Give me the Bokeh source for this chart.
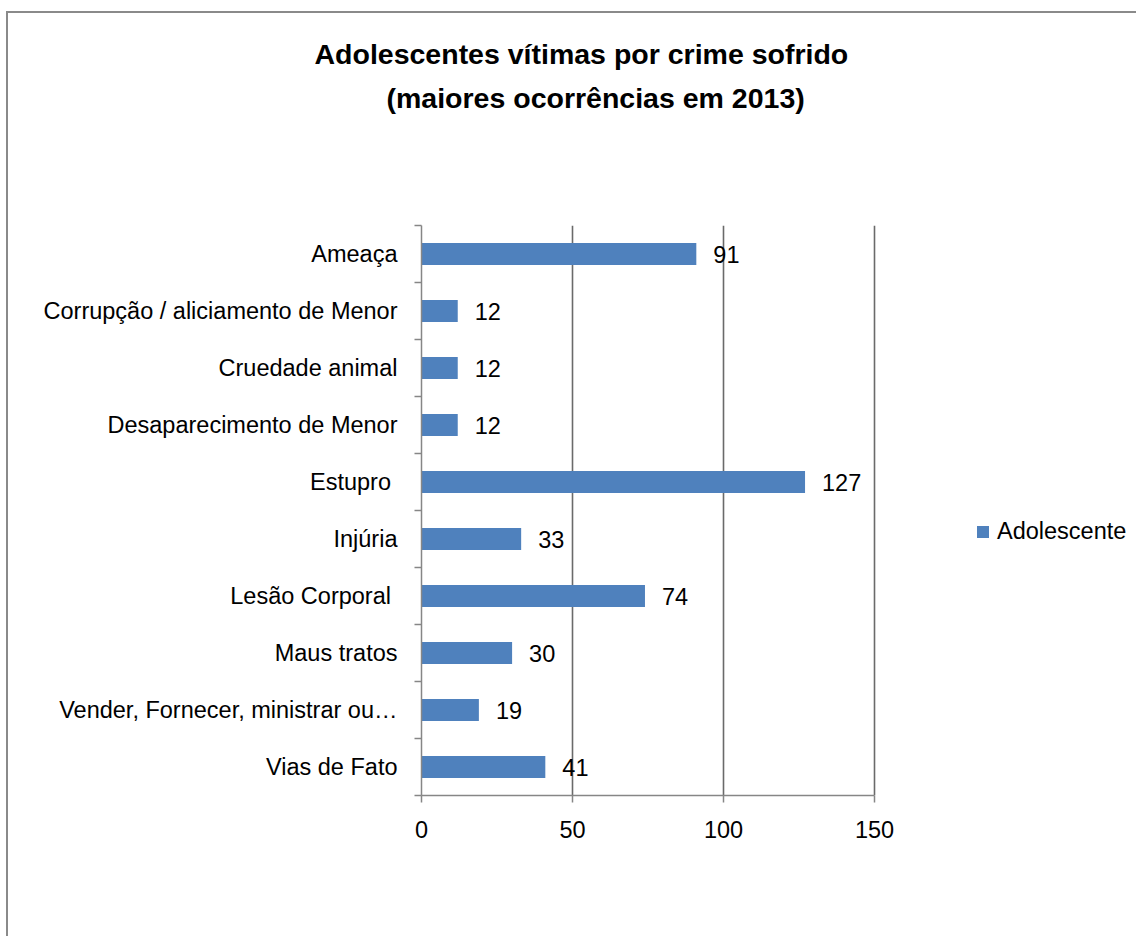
from bokeh.plotting import figure
from bokeh.models import (ColumnDataSource, FixedTicker, Legend, LegendItem, Title,
                          LabelSet, Range1d)
from bokeh.embed import file_html
from bokeh.resources import INLINE
from bokeh.core.properties import value

categories = ["Ameaça", "Corrupção / aliciamento de Menor", "Cruedade animal",
              "Desaparecimento de Menor", "Estupro ", "Injúria", "Lesão Corporal ",
              "Maus tratos", "Vender, Fornecer, ministrar ou…", "Vias de Fato"]
values = [91, 12, 12, 12, 127, 33, 74, 30, 19, 41]
x_ticks = [0, 50, 100, 150]
series_name = "Adolescente"
title_lines = ["Adolescentes vítimas por crime sofrido", "(maiores ocorrências em 2013)"]

FONT = "Liberation Sans"
BAR = "#4F81BD"
AXIS = "#868686"
FS = "23.5px"
TFS = "28.5px"

n = len(categories)
ypos = [n - i - 0.5 for i in range(n)]
src = ColumnDataSource(dict(y=ypos, v=values, lbl=[str(v) for v in values]))

# axes part is 453 px wide; the frame is extended to the right so that the
# legend (drawn inside it) is not clipped
AX_W, FR_W = 453, 715
x_end = x_ticks[-1] * FR_W / AX_W

p = figure(width=1130, height=925, output_backend="svg", toolbar_location=None,
           x_range=Range1d(0, x_end), y_range=Range1d(0, n),
           min_border_left=413, min_border_right=2, min_border_top=212,
           min_border_bottom=143)
p.outline_line_color = None
p.styles = {"border-left": "2px solid #8a8a8a", "border-top": "2px solid #8a8a8a",
            "margin-left": "6px", "margin-top": "11px"}

r = p.hbar(y="y", left=0, right="v", height=0.39, source=src,
           fill_color=BAR, line_color=None)

# x axis
p.xaxis.ticker = FixedTicker(ticks=x_ticks)
p.xaxis.bounds = (x_ticks[0], x_ticks[-1])
p.xaxis.axis_line_color = AXIS
p.xaxis.axis_line_width = 1.5
p.xaxis.major_tick_line_color = AXIS
p.xaxis.major_tick_line_width = 1.5
p.xaxis.major_tick_in = 0
p.xaxis.major_tick_out = 7
p.xaxis.minor_tick_line_color = None
p.xaxis.major_label_standoff = 18
p.xaxis.major_label_text_font = FONT
p.xaxis.major_label_text_font_size = FS
p.xaxis.major_label_text_color = "#000000"

# y axis
p.yaxis.ticker = FixedTicker(ticks=ypos, minor_ticks=list(range(n + 1)))
p.yaxis.major_label_overrides = {float(y): c for y, c in zip(ypos, categories)}
p.yaxis.axis_line_color = AXIS
p.yaxis.axis_line_width = 1.5
p.yaxis.major_tick_line_color = None
p.yaxis.major_tick_in = 0
p.yaxis.major_tick_out = 0
p.yaxis.minor_tick_line_color = AXIS
p.yaxis.minor_tick_line_width = 1.5
p.yaxis.minor_tick_in = 0
p.yaxis.minor_tick_out = 7
p.yaxis.major_label_standoff = 17
p.yaxis.major_label_text_font = FONT
p.yaxis.major_label_text_font_size = FS
p.yaxis.major_label_text_color = "#000000"

p.xgrid.grid_line_color = "#6a6a6a"
p.xgrid.grid_line_width = 1.6
p.xgrid.bounds = (x_ticks[0], x_ticks[-1])
p.ygrid.visible = False

labels = LabelSet(x="v", y="y", text="lbl", source=src, x_offset=17,
                  text_baseline="middle", text_font=value(FONT),
                  text_font_size=FS, text_color="#000000")
p.add_layout(labels)

# title: a blank spacer next to the frame, then line 2, then line 1 on top
p.add_layout(Title(text=" ", text_font_size="1px", standoff=109), "above")
p.add_layout(Title(text=title_lines[1], align="left", offset=-35, standoff=0,
                   text_font=FONT, text_font_style="bold", text_font_size=TFS,
                   text_color="#000000"), "above")
p.add_layout(Title(text=title_lines[0], align="left", offset=-107, standoff=20,
                   text_font=FONT, text_font_style="bold", text_font_size=TFS,
                   text_color="#000000"), "above")

legend = Legend(items=[LegendItem(label=series_name, renderers=[r])],
                location=(554, 250), glyph_width=15, glyph_height=15,
                label_standoff=7, padding=0, margin=0, border_line_alpha=0,
                background_fill_alpha=0, label_text_font=FONT,
                label_text_font_size=FS, label_text_color="#000000")
p.add_layout(legend)

open("out.html", "w").write(file_html(p, INLINE))
